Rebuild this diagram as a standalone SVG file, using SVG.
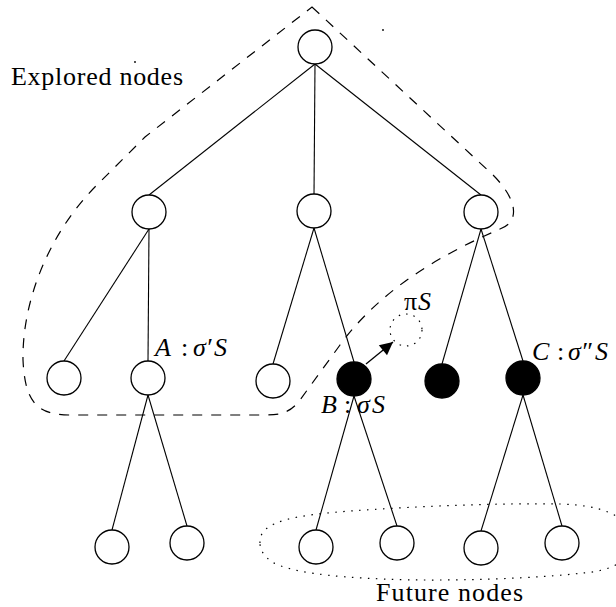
<svg xmlns="http://www.w3.org/2000/svg" width="616" height="607" viewBox="0 0 616 607">
<defs>
<style>
.n{fill:#fff;stroke:#000;stroke-width:1.3}
.b{fill:#000;stroke:#000;stroke-width:1.3}
.e{stroke:#000;stroke-width:1.1;fill:none}
.txt{font-family:"Liberation Serif","DejaVu Serif",serif;font-size:26px;fill:#000}
.m{font-family:"Liberation Serif","DejaVu Serif",serif;font-size:26px;fill:#000}
.it{font-style:italic}
</style>
<marker id="ah" viewBox="0 0 10 10" refX="10" refY="5" markerWidth="16" markerHeight="13" markerUnits="userSpaceOnUse" orient="auto">
<path d="M0,0 L10,5 L0,10 Z" fill="#000"/>
</marker>
</defs>
<rect width="616" height="607" fill="#fff"/>
<g id="regions">
<path id="explored" d="M312,7 L493,175 C518,200 520,222 500,229 C440,255 380,290 340,345 L300,400 C290,413 280,415 265,415 L70,415 C35,415 25,400 23,360 C22,300 50,230 100,182 L145,137 Z" fill="none" stroke="#000" stroke-width="1.2" stroke-dasharray="10,9"/>
<path id="future" d="M260,543 C258,520 300,515 350,511 C420,506 500,503 560,504 C600,505 630,515 632,540 C634,565 600,572 583,573 C540,578 450,582 383,579 C330,577 290,572 272,562 C264,556 260,550 260,543 Z" fill="none" stroke="#000" stroke-width="1.2" stroke-dasharray="1.5,6.5"/>
<circle cx="135" cy="62" r="0.9" fill="#000"/>
<circle cx="383" cy="30" r="0.9" fill="#000"/>
</g>
<g id="connectors">
<line class="e" x1="315" y1="64" x2="149" y2="195"/>
<line class="e" x1="315" y1="64" x2="314" y2="195"/>
<line class="e" x1="315" y1="64" x2="481" y2="195"/>
<line class="e" x1="149" y1="229" x2="64" y2="361"/>
<line class="e" x1="149" y1="229" x2="148" y2="361"/>
<line class="e" x1="314" y1="228" x2="273" y2="364"/>
<line class="e" x1="314" y1="228" x2="354" y2="362"/>
<line class="e" x1="481" y1="229" x2="442" y2="364"/>
<line class="e" x1="481" y1="229" x2="523" y2="361"/>
<line class="e" x1="148" y1="395" x2="112" y2="530"/>
<line class="e" x1="148" y1="395" x2="187" y2="526"/>
<line class="e" x1="354" y1="396" x2="316" y2="530"/>
<line class="e" x1="354" y1="396" x2="397" y2="526"/>
<line class="e" x1="523" y1="395" x2="481" y2="531"/>
<line class="e" x1="523" y1="395" x2="562" y2="526"/>
<line id="arrow" x1="366" y1="364" x2="393" y2="342" stroke="#000" stroke-width="1.3" marker-end="url(#ah)"/>
</g>
<g id="root"><circle class="n" cx="315" cy="47" r="17"/></g>
<g id="n1a"><circle class="n" cx="149" cy="212" r="17"/></g>
<g id="n1b"><circle class="n" cx="314" cy="211" r="17"/></g>
<g id="n1c"><circle class="n" cx="481" cy="212" r="17"/></g>
<g id="n2a"><circle class="n" cx="64" cy="378" r="17"/></g>
<g id="nodeA"><circle class="n" cx="148" cy="378" r="17"/><text class="m" y="356"><tspan class="it" x="155">A</tspan><tspan x="181">:</tspan><tspan class="it" x="193">σ′</tspan><tspan class="it" x="214">S</tspan></text></g>
<g id="n2c"><circle class="n" cx="273" cy="381" r="17"/></g>
<g id="nodeB"><circle class="b" cx="354" cy="379" r="17"/><text class="m" y="413"><tspan class="it" x="321">B</tspan><tspan x="344">:</tspan><tspan class="it" x="357">σ</tspan><tspan class="it" x="372">S</tspan></text></g>
<g id="piS"><circle cx="406" cy="330" r="16" fill="none" stroke="#000" stroke-width="1.2" stroke-dasharray="1.5,6"/><text class="m" y="310"><tspan x="404">π</tspan><tspan class="it" x="418">S</tspan></text></g>
<g id="n2e"><circle class="b" cx="442" cy="381" r="17"/></g>
<g id="nodeC"><circle class="b" cx="523" cy="378" r="17"/><text class="m" y="360"><tspan class="it" x="532">C</tspan><tspan x="557">:</tspan><tspan class="it" x="568">σ″</tspan><tspan class="it" x="595">S</tspan></text></g>
<g id="n3a"><circle class="n" cx="112" cy="547" r="17"/></g>
<g id="n3b"><circle class="n" cx="187" cy="543" r="17"/></g>
<g id="n3c"><circle class="n" cx="316" cy="547" r="17"/></g>
<g id="n3d"><circle class="n" cx="397" cy="543" r="17"/></g>
<g id="n3e"><circle class="n" cx="481" cy="548" r="17"/></g>
<g id="n3f"><circle class="n" cx="562" cy="543" r="17"/></g>
<g id="labels">
<text class="txt" x="11" y="85" textLength="172" lengthAdjust="spacing">Explored nodes</text>
<text class="txt" x="376" y="601" textLength="147" lengthAdjust="spacing">Future nodes</text>
</g>
</svg>
